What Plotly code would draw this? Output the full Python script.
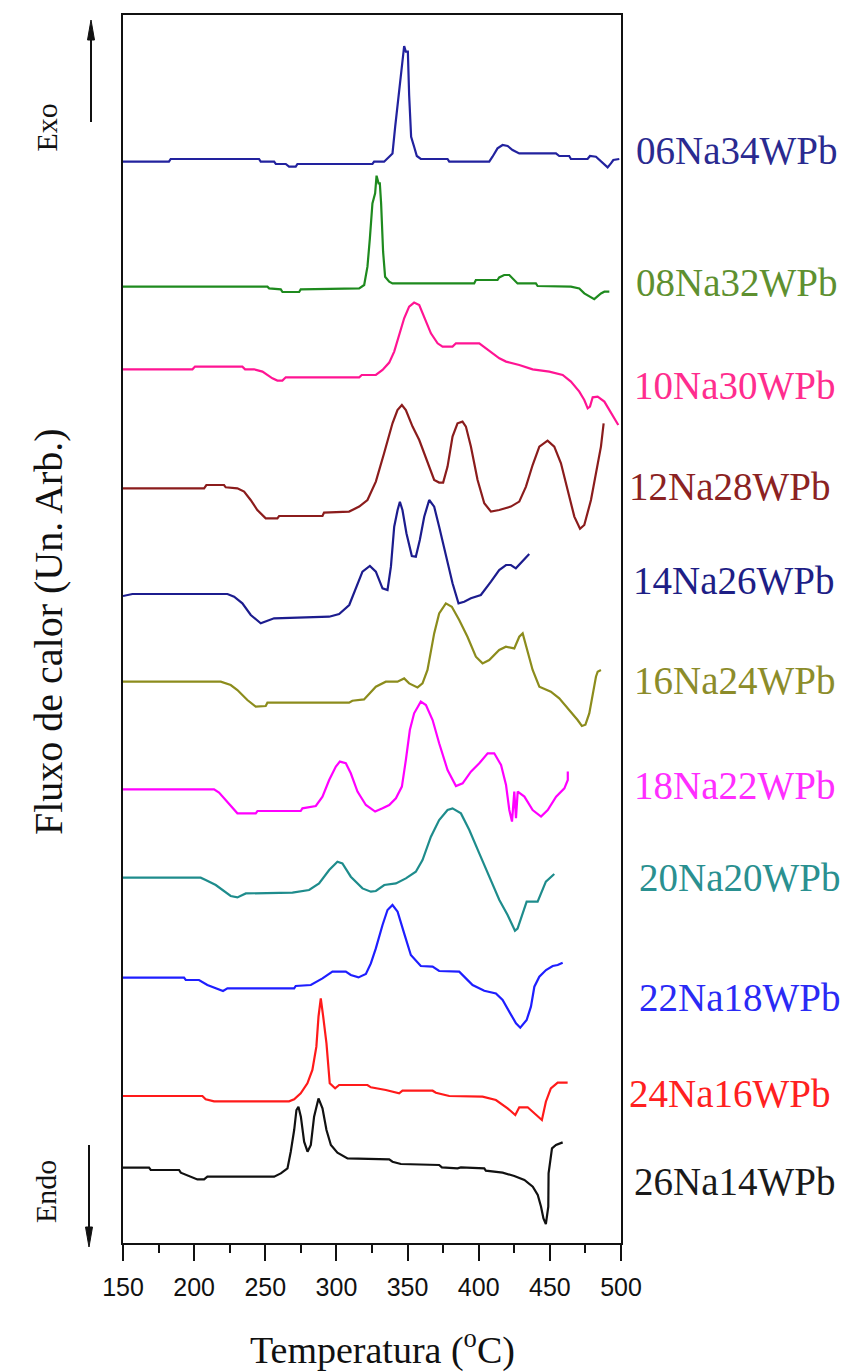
import plotly.graph_objects as go

# ---------------- data (temperature in °C, heat-flow signal in arbitrary units) ----------------
labels = ["06Na34WPb", "08Na32WPb", "10Na30WPb", "12Na28WPb", "14Na26WPb", "16Na24WPb",
          "18Na22WPb", "20Na20WPb", "22Na18WPb", "24Na16WPb", "26Na14WPb"]

# vertical offset of each curve (stacking, arbitrary units)
offsets = [1081.3, 956.3, 873.7, 754.7, 647.0, 561.3, 453.7, 365.3, 265.3, 147.0, 75.3]

T_06 = [150, 182.3, 183.5, 245.6, 246.8, 256.2, 257.4, 264.4, 266.7, 271.4, 272.6, 325.3, 326.5, 333.5,
        337.1, 339.4, 341.3, 343.6, 346.0, 347.6, 348.8, 350.2, 351.1, 352.5, 354.6, 356.5, 359.3, 378.1,
        379.3, 407.4, 409.7, 413.2, 416.8, 420.3, 423.8, 428.5, 454.3, 456.6, 463.6, 464.8, 476.5, 478.2,
        482.4, 485.9, 490.6, 492.9, 494.6, 498.8]
S_06 = [0, 0, 2.7, 2.7, 0, 0, -2.3, -2.3, -5, -5, -2.3, -2.3, 0, 0,
        5, 8.3, 35, 65, 101.7, 115.7, 110, 110, 66.7, 25, 15, 5.7, 2.7, 2.7,
        0, 0, 5, 13.3, 16.7, 15.7, 11.7, 8.3, 8.3, 5.7, 5.7, 2.7, 2.7, 5.7,
        5, 0, -5.7, -1.7, 1.7, 2.7]

T_08 = [150, 251.5, 252.7, 260.9, 262.1, 273.8, 274.9, 316.0, 319.5, 321.8, 323.5, 325.3, 327.2, 328.2,
        329.6, 330.5, 331.4, 332.8, 334.2, 337.1, 339.4, 396.8, 398.0, 413.2, 414.4, 417.9, 421.5, 427.3,
        440.2, 441.4, 464.8, 470.7, 474.2, 481.2, 485.9, 488.3, 491.8]
S_08 = [0, 0, -1.7, -2.7, -5.3, -5.3, -2.7, -1.7, 1.7, 20, 48.3, 83.3, 93.3, 111,
        103.3, 103.3, 83.3, 35, 10, 5, 3.3, 3.3, 6.7, 6.7, 9.3, 11.7, 11.7, 3.3,
        3.3, 0.7, 0, -1.7, -6.7, -12.5, -6.7, -5, -5]

T_10 = [150, 198.8, 200.6, 233.9, 235.8, 242.1, 248.0, 255.0, 258.5, 262.0, 264.4, 316.0, 317.8, 327.7,
        332.4, 337.1, 340.6, 344.1, 347.6, 351.1, 354.6, 358.2, 361.7, 366.4, 371.1, 374.6, 381.6, 384.0,
        400.4, 405.1, 409.8, 414.5, 419.2, 428.5, 437.9, 449.6, 459.0, 464.8, 470.7, 474.2, 476.6, 478.2,
        480.1, 483.6, 488.3, 491.8, 495.3, 498.1]
S_10 = [0, 0, 2.7, 2.7, 0, 0, -2.3, -9, -11.3, -11.3, -8, -8, -5.7, -5.7,
        -0.7, 6.7, 17.7, 34.3, 51, 62.7, 66.7, 64.3, 52.7, 36, 26, 22.7, 22.7, 26,
        26, 21, 16, 11, 7.7, 4.3, 0, -2.3, -5.7, -12.3, -22.3, -30.7, -39, -37.3,
        -28, -27.3, -32.3, -40.7, -49, -55.7]

T_12 = [150, 207.0, 208.6, 221.0, 222.2, 230.4, 235.1, 239.7, 244.4, 250.3, 258.5, 259.7, 290.2, 291.3,
        308.9, 316.0, 321.8, 327.7, 333.5, 339.4, 342.9, 346.0, 348.8, 353.5, 358.2, 364.0, 368.7, 372.2,
        375.0, 378.1, 381.6, 385.1, 388.6, 391.0, 394.5, 399.2, 403.9, 408.6, 414.4, 422.6, 428.5, 433.2,
        437.9, 442.6, 448.4, 453.1, 457.8, 462.5, 467.2, 471.2, 474.2, 478.9, 482.4, 485.9, 487.8]
S_12 = [0, 0, 3.3, 3.3, 1, 0, -3.3, -11.7, -21.7, -30, -30, -27.7, -27.7, -24.3,
        -23.3, -18.3, -11.7, 6.7, 35, 65, 78.3, 83.3, 78.3, 61.7, 48.3, 25, 8.3, 5.7,
        5.7, 21.7, 51.7, 65, 66.7, 61.7, 41.7, 8.3, -15, -23.3, -21.7, -18.3, -13.3, 1.7,
        23.3, 41.7, 47.7, 41.7, 25, -1.7, -28.3, -40.5, -36.7, -11.7, 15, 41.7, 65]

T_14 = [150, 156.6, 223.4, 228.1, 233.9, 239.8, 246.8, 250.3, 256.2, 294.9, 301.9, 309.0, 313.6, 318.3,
        323.5, 327.7, 332.4, 335.9, 338.3, 340.6, 343.0, 344.6, 346.4, 349.2, 353.0, 355.8, 358.6, 361.7,
        365.2, 368.7, 372.2, 376.9, 381.6, 385.8, 389.8, 394.5, 401.5, 408.6, 414.4, 419.2, 422.6, 426.1,
        429.7, 435.5]
S_14 = [0, 2, 2, -0.7, -7.3, -19, -27.3, -25.7, -22.3, -20.7, -18, -9, 7.7, 24.3,
        30, 24.3, 7.7, 6, 29.3, 69.3, 86, 94.3, 86, 62.7, 40, 39.3, 56, 79.3,
        96, 89.3, 69.3, 39.3, 12.7, -7.3, -5.7, -2.3, 1, 14.3, 26, 31, 31, 27.7,
        33.3, 42]

T_16 = [150, 218.7, 225.7, 230.4, 237.4, 243.3, 250.3, 251.5, 308.9, 311.2, 319.4, 327.7, 334.7, 342.9,
        347.6, 351.1, 357.0, 360.5, 364.0, 368.7, 372.2, 376.9, 381.1, 386.3, 392.1, 398.0, 402.7, 407.4,
        414.4, 419.1, 425.0, 428.5, 430.9, 432.7, 437.9, 442.6, 450.7, 456.6, 463.6, 469.5, 472.5, 475.0,
        477.7, 480.0, 482.4, 483.6, 485.9]
S_16 = [0, 0, -3.3, -8.3, -18.3, -25, -24.3, -21, -21, -19, -17.7, -5, 0, 0,
        3.3, -1.7, -5.7, -1.7, 11.7, 48.3, 68.3, 78.3, 75, 61.7, 45, 25, 18.3, 21.7,
        31.7, 35, 33.3, 45, 48.3, 38.3, 11.7, -5, -10, -16.7, -28.3, -38.3, -44.3, -43,
        -31.7, -14, 5, 10, 11.7]

T_18 = [150, 214.0, 217.5, 224.5, 230.4, 243.3, 244.5, 274.9, 276.1, 285.5, 290.2, 294.9, 299.6, 302.4,
        306.6, 310.1, 314.8, 320.7, 327.2, 332.4, 337.1, 341.8, 346.0, 348.8, 351.6, 354.6, 359.3, 362.9,
        367.6, 372.2, 378.1, 384.0, 388.7, 394.5, 400.4, 406.3, 410.9, 415.7, 419.2, 421.5, 423.4, 425.0,
        426.2, 427.4, 432.1, 437.9, 443.8, 448.5, 454.4, 460.2, 462.6, 462.6]
S_18 = [0, 0, -3.3, -14, -24, -24, -21.7, -21.7, -19, -16.7, -7.3, 9.3, 22.7, 27.7,
        26, 16, -2.3, -15.7, -22.3, -19, -15.7, -9, 2.7, 29.3, 59.3, 76, 87.7, 84.3,
        69.3, 46, 19.3, 3.3, 6, 17.7, 26, 36, 36, 24.3, 4.3, -20.7, -32.3, -2.3,
        -29, -2.3, -7.3, -20.7, -27.3, -20.7, -7.3, 1, 9.3, 17.7]

T_20 = [150, 204.6, 208.1, 215.2, 225.7, 230.4, 236.3, 269.1, 280.8, 287.8, 294.9, 300.7, 304.2, 310.1,
        318.3, 324.2, 327.7, 333.6, 341.8, 348.8, 355.8, 360.5, 366.4, 372.2, 378.1, 381.6, 387.5, 393.4,
        400.4, 407.4, 414.5, 420.3, 423.5, 425.5, 427.3, 430.9, 433.7, 441.4, 443.8, 447.2, 453.1]
S_20 = [0, 0, -2.3, -7.3, -18.3, -19.7, -15.7, -15, -12.3, -5.7, 7.7, 16, 14.3, 1,
        -10.7, -14, -13.3, -7.3, -5.7, -0.7, 6, 17.7, 41, 57.7, 67.7, 69.3, 64.3, 47.7,
        24.3, 1, -22.3, -37.3, -47, -53, -51, -35.7, -24, -24, -15.7, -4, 3.7]

T_22 = [150, 192.9, 194.1, 203.4, 209.3, 215.2, 220.3, 223.4, 270.3, 271.4, 282.0, 290.2, 297.2, 306.6,
        310.1, 315.5, 320.7, 324.2, 327.7, 332.4, 335.9, 339.4, 343.0, 347.6, 352.3, 359.3, 367.6, 372.2,
        386.3, 391.0, 395.7, 403.9, 412.1, 416.8, 421.5, 426.2, 429.2, 433.7, 436.7, 439.1, 442.6, 447.3,
        452.0, 455.5, 459.0]
S_22 = [0, 0, -2.3, -2.3, -7.3, -10.7, -13.3, -10.7, -10.7, -8.3, -7.3, -0.7, 6, 6,
        2.7, 0.3, 3.7, 14.3, 29.3, 52.7, 67.7, 72.7, 66, 44.3, 22.7, 11.7, 11, 6.7,
        6, -0.7, -7.3, -13, -15.7, -22.3, -34, -45.7, -50, -42.3, -29, -9, 1, 7.7,
        11.7, 12.7, 15]

T_24 = [150, 205.8, 208.1, 214.0, 266.7, 270.3, 274.9, 279.6, 283.1, 285.9, 287.4, 289.0, 290.7, 293.0,
        295.3, 299.1, 301.9, 321.8, 324.2, 334.7, 344.1, 346.4, 367.6, 369.9, 379.3, 402.7, 412.1, 420.3,
        425.7, 428.5, 434.4, 440.2, 444.4, 447.2, 450.7, 455.5, 462.5]
S_24 = [0, 0, -3.3, -5.3, -5.3, -3.3, 2.7, 12.7, 26, 49.3, 79.3, 97.7, 79.3, 52.7,
        12.7, 7.7, 11, 11, 8.7, 6, 2.7, 5.3, 5.3, 3.3, 0, -0.7, -4, -12.3,
        -19, -11.3, -11.3, -19, -24, -5.7, 7.7, 13.3, 13.3]

T_26 = [150, 168.3, 169.5, 189.4, 190.6, 196.4, 202.3, 207.0, 209.3, 256.2, 260.9, 265.6, 267.9, 270.3,
        271.9, 273.3, 275.0, 277.3, 279.7, 282.0, 284.3, 287.4, 290.2, 293.0, 296.1, 300.7, 307.8, 337.1,
        339.4, 345.3, 372.2, 374.1, 385.1, 387.5, 403.9, 405.0, 416.8, 425.0, 432.1, 438.0, 441.5, 443.8,
        445.5, 447.2, 448.9, 449.1, 451.5, 454.3, 459.0]
S_26 = [0, 0, -2.3, -2.3, -5, -8.3, -11.7, -11.7, -9, -9, -5.7, -0.7, 16, 37.7,
        57.7, 61, 51, 26, 16, 22.7, 51, 69.3, 59.3, 37.7, 22.7, 15, 9.3, 8.3,
        6, 3.7, 2.7, 0.3, -0.7, 0.3, -0.7, -3, -5, -8.3, -12.3, -19, -27.3, -39,
        -50.7, -56.3, -39, -5.7, 19.3, 22.7, 25.3]

x_ticks = [150, 200, 250, 300, 350, 400, 450, 500]

# ---------------- styling ----------------
temps = [T_06, T_08, T_10, T_12, T_14, T_16, T_18, T_20, T_22, T_24, T_26]
signals = [S_06, S_08, S_10, S_12, S_14, S_16, S_18, S_20, S_22, S_24, S_26]
line_colors = ["#22229E", "#1E8A1E", "#FF1493", "#8B1C1C", "#1C1C8E", "#8C8C1C",
               "#FF00FF", "#1E8C8C", "#1E1EFF", "#FF1A1A", "#111111"]
label_colors = ["#2A2A90", "#5E9030", "#FF2D8E", "#8B2222", "#1E1E86", "#8C8C2A",
                "#FF2EFF", "#2A9090", "#2A2AF5", "#FF2020", "#1A1A1A"]
label_left_px = [634, 634, 632, 627, 631, 632, 632, 637, 637, 627, 632]
label_mid_px = [150, 282, 385, 487, 580, 680, 786, 877, 997, 1093, 1181]

W, H = 842, 1372
L, R, TOP, BOT = 123, 621, 15, 1243
Y_MAX = BOT - TOP

fig = go.Figure()
for t, s, off, c in zip(temps, signals, offsets, line_colors):
    fig.add_trace(go.Scatter(x=t, y=[off + v for v in s], mode="lines",
                             line=dict(color=c, width=2.2), showlegend=False, hoverinfo="skip"))

pw = R - L


def px_x(px):
    return (px - L) / pw


def px_y(py):
    return (BOT - py) / Y_MAX


serif = "Liberation Serif, Times New Roman, serif"
ann = []
for lab, c, lx, my in zip(labels, label_colors, label_left_px, label_mid_px):
    ann.append(dict(text=lab, x=px_x(lx), y=px_y(my), xref="paper", yref="paper",
                    xanchor="left", yanchor="middle", showarrow=False,
                    font=dict(family=serif, size=39, color=c)))

# axis titles and Exo/Endo markers
ann.append(dict(text="Fluxo de calor (Un. Arb.)", x=px_x(48), y=px_y(632), xref="paper", yref="paper",
                textangle=-90, showarrow=False, xanchor="center", yanchor="middle",
                font=dict(family=serif, size=40, color="#111")))
ann.append(dict(text="Temperatura (<sup>o</sup>C)", x=px_x(382), y=px_y(1347), xref="paper", yref="paper",
                showarrow=False, xanchor="center", yanchor="middle",
                font=dict(family=serif, size=38, color="#111")))
ann.append(dict(text="Exo", x=px_x(27), y=px_y(102), xref="paper", yref="paper", textangle=-90,
                showarrow=False, font=dict(family=serif, size=30, color="#111")))
ann.append(dict(text="Endo", x=px_x(27), y=px_y(1225), xref="paper", yref="paper", textangle=-90,
                showarrow=False, font=dict(family=serif, size=30, color="#111")))

# Exo / Endo arrows drawn as shapes (paper coordinates)
shapes = []
ex = px_x(91)
shapes.append(dict(type="line", xref="paper", yref="paper", x0=ex, x1=ex, y0=px_y(122), y1=px_y(30),
                   line=dict(color="#111", width=2)))
shapes.append(dict(type="path", xref="paper", yref="paper",
                   path=f"M {px_x(87.5)} {px_y(40)} L {px_x(94.5)} {px_y(40)} L {ex} {px_y(20)} Z",
                   fillcolor="#111", line=dict(color="#111", width=1)))
en = px_x(89)
shapes.append(dict(type="line", xref="paper", yref="paper", x0=en, x1=en, y0=px_y(1145), y1=px_y(1237),
                   line=dict(color="#111", width=2)))
shapes.append(dict(type="path", xref="paper", yref="paper",
                   path=f"M {px_x(85.5)} {px_y(1227)} L {px_x(92.5)} {px_y(1227)} L {en} {px_y(1247)} Z",
                   fillcolor="#111", line=dict(color="#111", width=1)))

fig.update_layout(
    width=W, height=H,
    margin=dict(l=L, r=W - R, t=TOP, b=H - BOT, pad=0),
    paper_bgcolor="white", plot_bgcolor="white",
    annotations=ann, shapes=shapes,
    xaxis=dict(range=[150, 500], tickvals=x_ticks, ticks="outside", ticklen=16, tickwidth=2,
               tickcolor="#111", showline=True, linewidth=2, linecolor="#111", mirror=True,
               showgrid=False, zeroline=False, ticklabelstandoff=5,
               tickfont=dict(family="Liberation Sans, Arial, sans-serif", size=25, color="#111"),
               minor=dict(ticks="outside", ticklen=8, tickwidth=2, tickcolor="#111", dtick=25,
                          tick0=150, showgrid=False)),
    yaxis=dict(range=[0, Y_MAX], showticklabels=False, ticks="", showline=True, linewidth=2,
               linecolor="#111", mirror=True, showgrid=False, zeroline=False),
)

fig.write_html("out.html")
